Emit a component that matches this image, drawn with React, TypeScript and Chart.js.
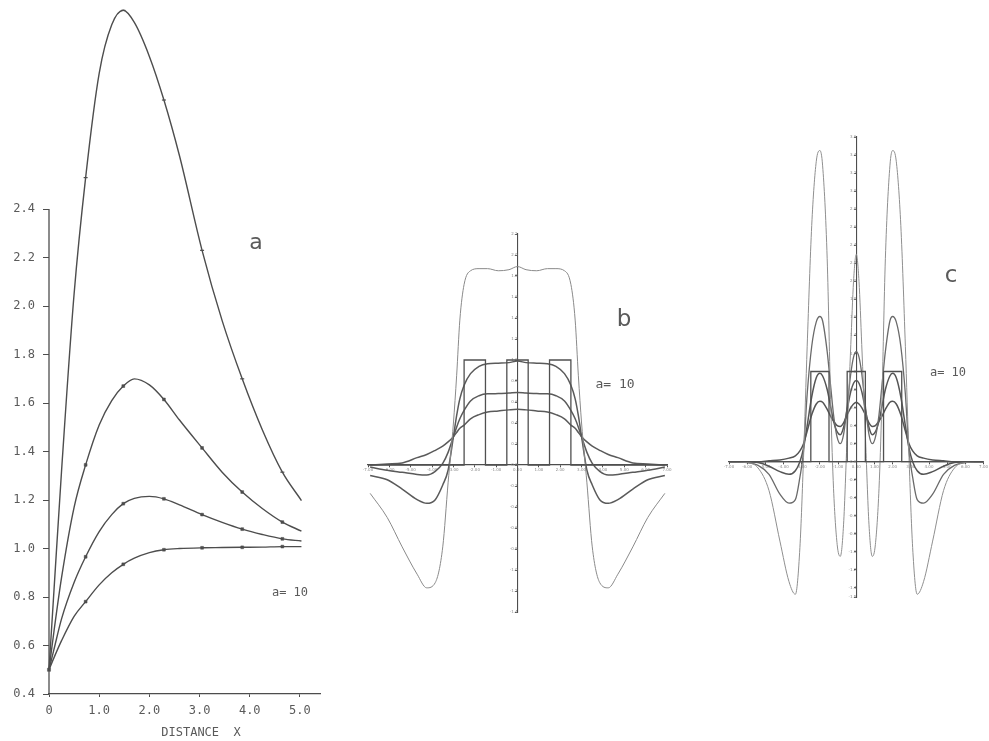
import React, { useEffect, useRef } from "react";
import { Chart, registerables } from "chart.js";

Chart.register(...registerables);

// ---------------- Panel a data ----------------
const xA = [0, 0.1, 0.25, 0.5, 0.73, 1.0, 1.25, 1.48, 1.7, 2.0, 2.29, 2.6, 3.05, 3.45, 3.85, 4.25, 4.65, 5.03];
const curveA1 = [0.5, 0.83, 1.32, 2.05, 2.53, 2.96, 3.16, 3.22, 3.17, 3.03, 2.85, 2.62, 2.23, 1.94, 1.7, 1.49, 1.315, 1.198];
const curveA2 = [0.5, 0.66, 0.88, 1.17, 1.345, 1.51, 1.61, 1.67, 1.7, 1.675, 1.615, 1.53, 1.415, 1.315, 1.233, 1.165, 1.109, 1.072];
const curveA3 = [0.5, 0.585, 0.71, 0.86, 0.966, 1.07, 1.14, 1.185, 1.207, 1.215, 1.205, 1.18, 1.14, 1.108, 1.08, 1.058, 1.04, 1.031];
const curveA4 = [0.5, 0.55, 0.62, 0.72, 0.781, 0.85, 0.9, 0.935, 0.96, 0.983, 0.995, 1.0, 1.003, 1.004, 1.005, 1.006, 1.008, 1.008];
const markerXA = [0.73, 1.48, 2.29, 3.05, 3.85, 4.65];
const xTicksA = [0, 1, 2, 3, 4, 5];
const yTicksA = [0.4, 0.6, 0.8, 1.0, 1.2, 1.4, 1.6, 1.8, 2.0, 2.2, 2.4];

// ---------------- Panel b data ----------------
const xB = [-6.9, -6.1, -5.4, -4.7, -4.25, -3.85, -3.5, -3.25, -3.0, -2.85, -2.7, -2.5, -2.2, -1.8, -1.4, -0.9, -0.4, 0,
  0.4, 0.9, 1.4, 1.8, 2.2, 2.5, 2.7, 2.85, 3.0, 3.25, 3.5, 3.85, 4.25, 4.7, 5.4, 6.1, 6.9];
const curveB1 = [-0.27, -0.5, -0.78, -1.04, -1.17, -1.12, -0.78, -0.17, 0.4, 0.85, 1.38, 1.72, 1.85, 1.87, 1.87, 1.85, 1.86, 1.89,
  1.86, 1.85, 1.87, 1.87, 1.85, 1.72, 1.38, 0.85, 0.4, -0.17, -0.78, -1.12, -1.17, -1.04, -0.78, -0.5, -0.27];
const curveB2 = [-0.1, -0.14, -0.23, -0.33, -0.365, -0.33, -0.19, -0.05, 0.27, 0.47, 0.63, 0.76, 0.87, 0.94, 0.965, 0.97, 0.975, 0.99,
  0.975, 0.97, 0.965, 0.94, 0.87, 0.76, 0.63, 0.47, 0.27, -0.05, -0.19, -0.33, -0.365, -0.33, -0.23, -0.14, -0.1];
const curveB3 = [-0.02, -0.05, -0.07, -0.09, -0.095, -0.06, 0.015, 0.12, 0.27, 0.36, 0.44, 0.52, 0.61, 0.66, 0.678, 0.68, 0.685, 0.69,
  0.685, 0.68, 0.678, 0.66, 0.61, 0.52, 0.44, 0.36, 0.27, 0.12, 0.015, -0.06, -0.095, -0.09, -0.07, -0.05, -0.02];
const curveB4 = [0.0, 0.01, 0.02, 0.07, 0.1, 0.14, 0.18, 0.22, 0.27, 0.31, 0.35, 0.38, 0.44, 0.48, 0.505, 0.515, 0.525, 0.53,
  0.525, 0.515, 0.505, 0.48, 0.44, 0.38, 0.35, 0.31, 0.27, 0.22, 0.18, 0.14, 0.1, 0.07, 0.02, 0.01, 0.0];
const stepX = [-7, -2.5, -2.5, -1.5, -1.5, -0.5, -0.5, 0.5, 0.5, 1.5, 1.5, 2.5, 2.5, 7];
const stepY = [0, 0, 1, 1, 0, 0, 1, 1, 0, 0, 1, 1, 0, 0];

// ---------------- Panel c data ----------------
const xC = [-7, -6, -5.4, -4.8, -4.2, -3.7, -3.35, -3.1, -2.9, -2.7, -2.45, -2.2, -2.0, -1.85, -1.6, -1.4, -1.25, -1.05, -0.88, -0.7, -0.5, -0.3, -0.15, 0,
  0.15, 0.3, 0.5, 0.7, 0.88, 1.05, 1.25, 1.4, 1.6, 1.85, 2.0, 2.2, 2.45, 2.7, 2.9, 3.1, 3.35, 3.7, 4.2, 4.8, 5.4, 6, 7];
const curveC1 = [0, -0.01, -0.07, -0.32, -0.88, -1.33, -1.47, -0.95, 0.05, 1.28, 2.62, 3.33, 3.45, 3.28, 2.25, 0.6, -0.3, -0.92, -1.05, -0.7, 0.3, 1.3, 2.0, 2.3,
  2.0, 1.3, 0.3, -0.7, -1.05, -0.92, -0.3, 0.6, 2.25, 3.28, 3.45, 3.33, 2.62, 1.28, 0.05, -0.95, -1.47, -1.33, -0.88, -0.32, -0.07, -0.01, 0];
const curveC2 = [0, -0.01, -0.04, -0.14, -0.36, -0.46, -0.42, -0.17, 0.12, 0.75, 1.28, 1.55, 1.61, 1.56, 1.22, 0.82, 0.52, 0.27, 0.2, 0.3, 0.62, 0.98, 1.16, 1.22,
  1.16, 0.98, 0.62, 0.3, 0.2, 0.27, 0.52, 0.82, 1.22, 1.56, 1.61, 1.55, 1.28, 0.75, 0.12, -0.17, -0.42, -0.46, -0.36, -0.14, -0.04, -0.01, 0];
const curveC3 = [0, 0, -0.01, -0.05, -0.11, -0.14, -0.1, 0.0, 0.15, 0.4, 0.72, 0.93, 0.98, 0.95, 0.8, 0.6, 0.45, 0.33, 0.3, 0.38, 0.58, 0.78, 0.87, 0.9,
  0.87, 0.78, 0.58, 0.38, 0.3, 0.33, 0.45, 0.6, 0.8, 0.95, 0.98, 0.93, 0.72, 0.4, 0.15, 0.0, -0.1, -0.14, -0.11, -0.05, -0.01, 0, 0];
const curveC4 = [0, 0, 0, 0.01, 0.02, 0.04, 0.065, 0.12, 0.2, 0.34, 0.52, 0.64, 0.67, 0.66, 0.58, 0.5, 0.45, 0.4, 0.39, 0.43, 0.52, 0.6, 0.64, 0.66,
  0.64, 0.6, 0.52, 0.43, 0.39, 0.4, 0.45, 0.5, 0.58, 0.66, 0.67, 0.64, 0.52, 0.34, 0.2, 0.12, 0.065, 0.04, 0.02, 0.01, 0, 0, 0];

// ---------------- styling ----------------
const INK = "#4d4d4d";
const TEXT = "#5a5a5a";
const MONO = "'DejaVu Sans Mono', monospace";

const pts = (xs: number[], ys: number[]) => xs.map((x, i) => ({ x, y: ys[i] }));

function curve(xs: number[], ys: number[], color: string, width: number, extra: any = {}) {
  return {
    data: pts(xs, ys),
    borderColor: color,
    borderWidth: width,
    pointRadius: 0,
    fill: false,
    cubicInterpolationMode: "monotone",
    clip: false,
    ...extra,
  };
}

const markerRadius = (withStart: boolean) => (ctx: any) => {
  const xv = xA[ctx.dataIndex];
  if (withStart && xv === 0) return 2.2;
  return markerXA.includes(xv) ? 2 : 0;
};

const partialAxisA = {
  id: "partialAxisA",
  beforeDatasetsDraw(chart: any) {
    const { ctx, scales } = chart;
    const px = scales.x.getPixelForValue(0);
    ctx.save();
    ctx.strokeStyle = INK;
    ctx.lineWidth = 1.3;
    ctx.beginPath();
    ctx.moveTo(px, scales.y.getPixelForValue(yTicksA[yTicksA.length - 1]));
    ctx.lineTo(px, scales.y.getPixelForValue(yTicksA[0]));
    ctx.stroke();
    ctx.restore();
  },
};

function configA(): any {
  const markerStyle = { pointStyle: "rect", pointBackgroundColor: INK, pointBorderColor: INK, pointBorderWidth: 0.5 };
  return {
    type: "line",
    data: {
      datasets: [
        curve(xA, curveA1, INK, 1.4, { pointRadius: markerRadius(false), pointStyle: "line", pointBorderColor: INK, pointBorderWidth: 1.2 }),
        curve(xA, curveA2, INK, 1.4, { pointRadius: markerRadius(false), ...markerStyle }),
        curve(xA, curveA3, INK, 1.4, { pointRadius: markerRadius(false), ...markerStyle }),
        curve(xA, curveA4, INK, 1.4, { pointRadius: markerRadius(true), ...markerStyle }),
      ],
    },
    options: {
      animation: false,
      responsive: false,
      maintainAspectRatio: false,
      layout: { padding: { left: 0, right: 10, top: 0, bottom: 0 } },
      plugins: { legend: { display: false }, tooltip: { enabled: false } },
      scales: {
        x: {
          type: "linear",
          min: 0,
          max: 5.4,
          afterFit: (s: any) => { s.height = 47; s.paddingLeft = 0; s.paddingRight = 0; },
          afterBuildTicks: (s: any) => { s.ticks = xTicksA.map((v) => ({ value: v })); },
          grid: { display: true, drawOnChartArea: false, drawTicks: true, tickLength: 3, color: INK, lineWidth: 1 },
          border: { display: true, color: INK, width: 1.3 },
          ticks: {
            font: { family: MONO, size: 12 },
            color: TEXT,
            padding: 7,
            maxRotation: 0,
            autoSkip: false,
            callback: (v: any) => (v === 0 ? "0" : Number(v).toFixed(1)),
          },
        },
        y: {
          type: "linear",
          min: 0.4,
          max: 3.244,
          afterFit: (s: any) => { s.width = 49; s.paddingTop = 0; s.paddingBottom = 0; },
          afterBuildTicks: (s: any) => { s.ticks = yTicksA.map((v) => ({ value: v })); },
          grid: { display: true, drawOnChartArea: false, drawTicks: true, tickLength: 6, color: INK, lineWidth: 1 },
          border: { display: false },
          ticks: {
            font: { family: MONO, size: 12 },
            color: TEXT,
            padding: 8,
            autoSkip: false,
            callback: (v: any) => Number(v).toFixed(1),
          },
        },
      },
    },
    plugins: [partialAxisA],
  };
}

function centeredScales(xMin: number, xMax: number, yMin: number, yMax: number): any {
  const tiny = { family: "'DejaVu Sans', sans-serif", size: 4 };
  return {
    x: {
      type: "linear",
      min: xMin,
      max: xMax,
      position: { y: 0 },
      afterFit: (s: any) => { s.height = 0; },
      grid: { display: true, drawOnChartArea: false, drawTicks: true, tickLength: 2, color: INK },
      border: { display: true, color: INK, width: 1.3 },
      ticks: { stepSize: 1, font: tiny, color: "#8a8a8a", padding: 1, maxRotation: 0, autoSkip: false, callback: (v: any) => Number(v).toFixed(2) },
    },
    y: {
      type: "linear",
      min: yMin,
      max: yMax,
      position: { x: 0 },
      afterFit: (s: any) => { s.width = 0; },
      grid: { display: true, drawOnChartArea: false, drawTicks: true, tickLength: 2, color: INK },
      border: { display: true, color: INK, width: 1.1 },
      ticks: { stepSize: 0.2, font: tiny, color: "#8a8a8a", padding: 1, autoSkip: false, callback: (v: any) => Number(v).toFixed(1) },
    },
  };
}

function configB(): any {
  return {
    type: "line",
    data: {
      datasets: [
        curve(stepX, stepY, "#505050", 1.3, { cubicInterpolationMode: "default", tension: 0 }),
        curve(xB, curveB1, "#8a8a8a", 1.0),
        curve(xB, curveB2, "#5a5a5a", 1.5),
        curve(xB, curveB3, "#5a5a5a", 1.5),
        curve(xB, curveB4, "#5a5a5a", 1.5),
      ],
    },
    options: {
      animation: false,
      responsive: false,
      maintainAspectRatio: false,
      layout: { padding: { left: 10, right: 11, top: 10, bottom: 10 } },
      plugins: { legend: { display: false }, tooltip: { enabled: false } },
      scales: centeredScales(-7, 7, -1.4, 2.2),
    },
  };
}

function configC(): any {
  return {
    type: "line",
    data: {
      datasets: [
        curve(stepX, stepY, "#505050", 1.3, { cubicInterpolationMode: "default", tension: 0 }),
        curve(xC, curveC1, "#8f8f8f", 1.0),
        curve(xC, curveC2, "#6a6a6a", 1.3),
        curve(xC, curveC3, "#555555", 1.5),
        curve(xC, curveC4, "#555555", 1.5),
      ],
    },
    options: {
      animation: false,
      responsive: false,
      maintainAspectRatio: false,
      layout: { padding: { left: 10, right: 1, top: 10, bottom: 10 } },
      plugins: { legend: { display: false }, tooltip: { enabled: false } },
      scales: centeredScales(-7, 7, -1.5, 3.6),
    },
  };
}

function Panel({ left, top, width, height, make }: { left: number; top: number; width: number; height: number; make: () => any }) {
  const ref = useRef<HTMLCanvasElement>(null);
  useEffect(() => {
    const chart = new Chart(ref.current as HTMLCanvasElement, make());
    return () => chart.destroy();
  }, []);
  return (
    <canvas
      ref={ref}
      width={width}
      height={height}
      style={{ position: "absolute", left, top, width, height }}
    />
  );
}

function Label({ x, y, text, size, family }: { x: number; y: number; text: string; size: number; family: string }) {
  return (
    <div
      style={{
        position: "absolute",
        left: x,
        top: y,
        transform: "translate(-50%, -50%)",
        fontFamily: family,
        fontSize: size,
        lineHeight: 1,
        color: TEXT,
        whiteSpace: "pre",
      }}
    >
      {text}
    </div>
  );
}

export default function App() {
  const SANS = "'DejaVu Sans', sans-serif";
  return (
    <div style={{ position: "absolute", left: 0, top: 0, width: 989, height: 741, background: "#ffffff", overflow: "hidden" }}>
      <Panel left={0} top={0} width={330} height={741} make={configA} />
      <Panel left={358} top={224} width={320} height={398} make={configB} />
      <Panel left={719} top={127} width={270} height={480} make={configC} />
      <Label x={201} y={732} text="DISTANCE  X" size={12} family={MONO} />
      <Label x={256} y={242} text="a" size={22} family={SANS} />
      <Label x={290} y={592} text="a= 10" size={12} family={MONO} />
      <Label x={624} y={318} text="b" size={23} family={SANS} />
      <Label x={615} y={383} text="a= 10" size={13} family={MONO} />
      <Label x={951} y={274} text="c" size={23} family={SANS} />
      <Label x={948} y={372} text="a= 10" size={12} family={MONO} />
    </div>
  );
}
